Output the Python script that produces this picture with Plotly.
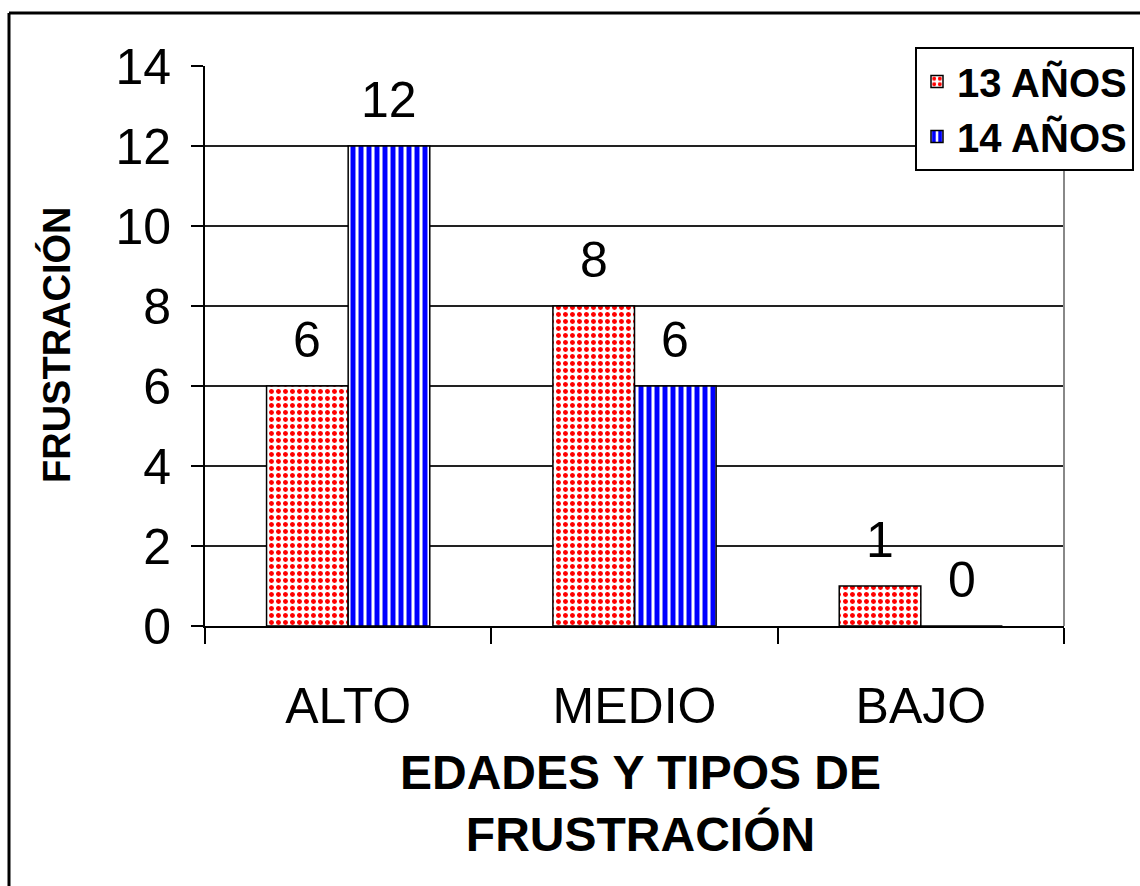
import plotly.graph_objects as go

categories = ["ALTO", "MEDIO", "BAJO"]
series_names = ["13 AÑOS", "14 AÑOS"]
values_13 = [6, 8, 1]
values_14 = [12, 6, 0]
y_ticks = [0, 2, 4, 6, 8, 10, 12, 14]

W, H = 1140, 886
L, R, T, B = 205, 76, 66, 260
pw, ph = W - L - R, H - T - B

def px_x(px):
    return (px - L) / pw

def px_y(py):
    return (H - B - py) / ph

FONT = "Liberation Sans, Arial, sans-serif"

fig = go.Figure()
fig.add_trace(go.Bar(
    name=series_names[0], x=categories, y=values_13,
    marker=dict(color="white", line=dict(color="black", width=1.5),
                pattern=dict(shape=".", fgcolor="#ff0000", bgcolor="white", fgopacity=1,
                             size=7, solidity=0.4, fillmode="replace")),
))
fig.add_trace(go.Bar(
    name=series_names[1], x=categories, y=values_14,
    marker=dict(color="white", line=dict(color="black", width=1.5),
                pattern=dict(shape="|", fgcolor="#0000ff", bgcolor="white", fgopacity=1,
                             size=8, solidity=0.62, fillmode="replace")),
))

# value labels above bars
bar_half = pw / 3 * (1 - 0.43) / 4
for vals, shift in ((values_13, -bar_half), (values_14, bar_half)):
    for c, v in zip(categories, vals):
        fig.add_annotation(x=c, y=v, xref="x", yref="y", text=str(v), showarrow=False,
                           xshift=shift, yshift=46, yanchor="middle", xanchor="center",
                           font=dict(family=FONT, size=50, color="black"))

# axis titles
fig.add_annotation(x=px_x(56), y=px_y(345), xref="paper", yref="paper", text="<b>FRUSTRACIÓN</b>",
                   textangle=-90, showarrow=False, xanchor="center", yanchor="middle",
                   font=dict(family=FONT, size=38, color="black"))
fig.add_annotation(x=px_x(640), y=px_y(803), xref="paper", yref="paper",
                   text="<b>EDADES Y TIPOS DE<br>FRUSTRACIÓN</b>", showarrow=False,
                   xanchor="center", yanchor="middle",
                   font=dict(family=FONT, size=48, color="black"), align="center")

# outer border and right plot edge
fig.add_shape(type="line", xref="paper", yref="paper", x0=px_x(9), x1=px_x(9), y0=px_y(13), y1=px_y(900),
              line=dict(color="black", width=3))
fig.add_shape(type="line", xref="paper", yref="paper", x0=px_x(9), x1=px_x(1150), y0=px_y(13), y1=px_y(13),
              line=dict(color="black", width=3))
fig.add_shape(type="line", xref="paper", yref="paper", x0=1, x1=1, y0=0, y1=1,
              line=dict(color="#888888", width=2))

fig.update_layout(
    width=W, height=H,
    margin=dict(l=L, r=R, t=T, b=B, autoexpand=False),
    paper_bgcolor="white", plot_bgcolor="white",
    barmode="group", bargap=0.43, bargroupgap=0,
    font=dict(family=FONT, color="black"),
    showlegend=True,
    legend=dict(x=px_x(915), y=px_y(47), xanchor="left", yanchor="top",
                bordercolor="black", borderwidth=2, bgcolor="white",
                font=dict(family=FONT, size=40, color="black", weight="bold"),
                traceorder="normal"),
    xaxis=dict(showline=True, linecolor="black", linewidth=2, ticks="outside", tickson="boundaries",
               ticklen=16, tickwidth=2, tickcolor="black", showgrid=False,
               tickfont=dict(family=FONT, size=50, color="black"), ticklabelstandoff=35),
    yaxis=dict(range=[0, 14], tickvals=y_ticks, showline=True, linecolor="black", linewidth=2,
               ticks="outside", ticklen=12, tickwidth=2, tickcolor="black",
               showgrid=True, gridcolor="#222222", gridwidth=1.5, zeroline=False,
               tickfont=dict(family=FONT, size=50, color="black"), ticklabelstandoff=10),
)

fig.write_html("out.html")
